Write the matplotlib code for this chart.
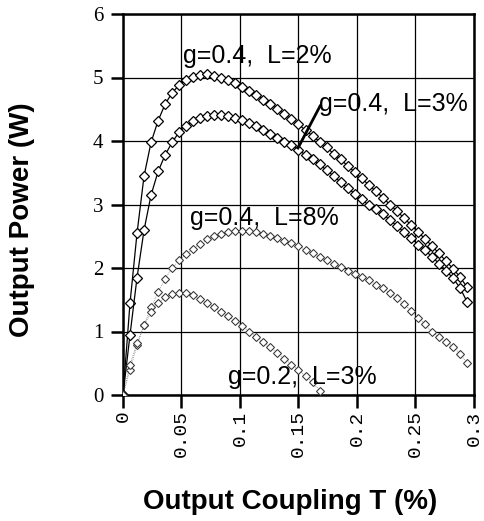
import matplotlib
matplotlib.use("Agg")
import matplotlib.pyplot as plt

# ---------------- data ----------------
x_full = [0.000, 0.006, 0.012, 0.018, 0.024, 0.030, 0.036, 0.042, 0.048, 0.054,
          0.060, 0.066, 0.072, 0.078, 0.084, 0.090, 0.096, 0.102, 0.108, 0.114,
          0.120, 0.126, 0.132, 0.138, 0.144, 0.150, 0.156, 0.162, 0.168, 0.174,
          0.180, 0.186, 0.192, 0.198, 0.204, 0.210, 0.216, 0.222, 0.228, 0.234,
          0.240, 0.246, 0.252, 0.258, 0.264, 0.270, 0.276, 0.282, 0.288, 0.294]

p_g04_L2 = [0.00, 1.45, 2.55, 3.45, 3.98, 4.32, 4.58, 4.76, 4.88, 4.96,
            5.01, 5.04, 5.05, 5.03, 5.00, 4.96, 4.91, 4.85, 4.79, 4.72,
            4.65, 4.58, 4.50, 4.42, 4.34, 4.26, 4.17, 4.08, 3.99, 3.90,
            3.80, 3.71, 3.61, 3.51, 3.41, 3.31, 3.21, 3.11, 3.00, 2.90,
            2.79, 2.68, 2.57, 2.46, 2.35, 2.23, 2.11, 1.99, 1.86, 1.70]

p_g04_L3 = [0.00, 0.95, 1.85, 2.60, 3.15, 3.52, 3.78, 3.98, 4.14, 4.24,
            4.31, 4.36, 4.39, 4.41, 4.41, 4.39, 4.36, 4.33, 4.28, 4.23,
            4.17, 4.11, 4.05, 3.99, 3.93, 3.86, 3.78, 3.71, 3.63, 3.54,
            3.45, 3.35, 3.26, 3.17, 3.08, 2.99, 2.93, 2.85, 2.76, 2.66,
            2.57, 2.48, 2.37, 2.28, 2.18, 2.07, 1.96, 1.84, 1.69, 1.47]

p_g04_L8 = [0.00, 0.40, 0.78, 1.10, 1.38, 1.62, 1.83, 2.00, 2.12, 2.22,
            2.30, 2.38, 2.45, 2.50, 2.54, 2.57, 2.59, 2.59, 2.58, 2.56,
            2.53, 2.50, 2.47, 2.43, 2.39, 2.35, 2.29, 2.24, 2.18, 2.12,
            2.07, 2.02, 1.96, 1.90, 1.86, 1.81, 1.74, 1.68, 1.61, 1.53,
            1.44, 1.33, 1.22, 1.12, 1.00, 0.91, 0.84, 0.76, 0.65, 0.50]

x_g02 = [0.000, 0.006, 0.012, 0.018, 0.024, 0.030, 0.036, 0.042, 0.048, 0.054,
         0.060, 0.066, 0.072, 0.078, 0.084, 0.090, 0.096, 0.102, 0.108, 0.114,
         0.120, 0.126, 0.132, 0.138, 0.144, 0.150, 0.156, 0.162, 0.168]
p_g02_L3 = [0.00, 0.48, 0.82, 1.10, 1.30, 1.45, 1.54, 1.59, 1.61, 1.61,
            1.57, 1.51, 1.45, 1.38, 1.31, 1.24, 1.17, 1.09, 1.00, 0.91,
            0.83, 0.75, 0.66, 0.57, 0.48, 0.39, 0.30, 0.20, 0.07]

xticks = [0, 0.05, 0.1, 0.15, 0.2, 0.25, 0.3]
xtick_labels = ["0", "0.05", "0.1", "0.15", "0.2", "0.25", "0.3"]
yticks = [0, 1, 2, 3, 4, 5, 6]

labels = ["g=0.4,  L=2%", "g=0.4,  L=3%", "g=0.4,  L=8%", "g=0.2,  L=3%"]

# ---------------- figure ----------------
fig = plt.figure(figsize=(4.85, 5.21), dpi=100)
ax = fig.add_axes([123/485, 1 - 395/521, 351/485, 381/521])

ax.set_xlim(0, 0.3)
ax.set_ylim(0, 6)

# grid
ax.set_xticks(xticks)
ax.set_yticks(yticks)
ax.grid(True, color="black", linewidth=0.9)
ax.set_axisbelow(True)

# strong curves
ax.plot(x_full, p_g04_L2, color="black", lw=0.9, marker="D", ms=4.6,
        mfc="white", mec="black", mew=0.9, zorder=3)
ax.plot(x_full, p_g04_L3, color="black", lw=0.9, marker="D", ms=4.6,
        mfc="white", mec="black", mew=0.9, zorder=3)
# faint curves
ax.plot(x_full, p_g04_L8, color="0.35", lw=0.5, ls=":", marker="D", ms=4.3,
        mfc="white", mec="0.2", mew=0.75, zorder=3)
ax.plot(x_g02, p_g02_L3, color="0.35", lw=0.5, ls=":", marker="D", ms=4.3,
        mfc="white", mec="0.2", mew=0.75, zorder=3)

# spines
for s in ax.spines.values():
    s.set_linewidth(1.8)
    s.set_color("black")

# ticks
ax.tick_params(axis="both", direction="out", length=9, width=1.8, color="black")
ax.tick_params(axis="y", pad=5)
ax.tick_params(axis="x", pad=2)
ax.set_xticklabels(xtick_labels, rotation=90, family="Liberation Mono", fontsize=14)
ax.set_yticklabels([str(v) for v in yticks], family="Liberation Serif", fontsize=15)

# annotations
tfont = dict(family="Liberation Sans", fontsize=18, va="baseline", ha="left")
ax.text(0.0513, 5.23, labels[0], **tfont)
ax.text(0.1675, 4.47, labels[1], **tfont)
ax.text(0.0573, 2.68, labels[2], **tfont)
ax.text(0.0897, 0.17, labels[3], **tfont)
ax.plot([0.1684, 0.1496], [4.55, 3.89], color="black", lw=2, zorder=4)

# axis titles
fig.text(290/485, 1 - 502/521, "Output Coupling T (%)", ha="center", va="center",
         family="Liberation Sans", fontweight="bold", fontsize=20)
fig.text(22/485, 1 - 220/521, "Output Power (W)", ha="center", va="center",
         rotation=90, family="Liberation Sans", fontweight="bold", fontsize=20)

fig.savefig("out.png", dpi=100)
